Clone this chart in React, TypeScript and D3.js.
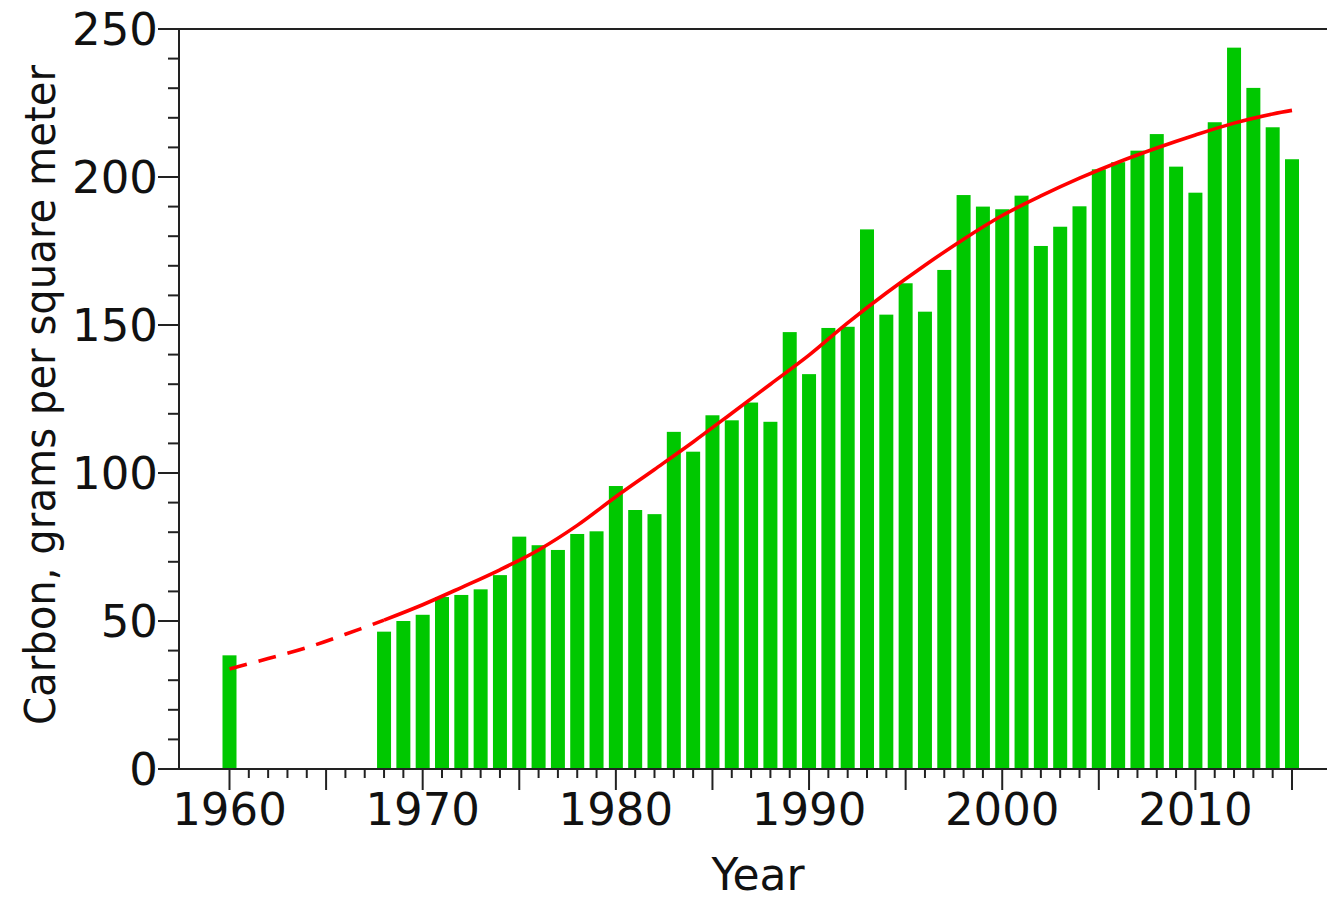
import React from "react";
import * as d3 from "d3";

// Bar data (annual values, grams of carbon per square meter)
const years: number[] = [
  1960, 1968, 1969, 1970, 1971, 1972, 1973, 1974, 1975, 1976, 1977, 1978, 1979,
  1980, 1981, 1982, 1983, 1984, 1985, 1986, 1987, 1988, 1989, 1990, 1991, 1992,
  1993, 1994, 1995, 1996, 1997, 1998, 1999, 2000, 2001, 2002, 2003, 2004, 2005,
  2006, 2007, 2008, 2009, 2010, 2011, 2012, 2013, 2014, 2015,
];
const values: number[] = [
  38.4, 46.4, 50.0, 52.1, 58.1, 58.8, 60.7, 65.5, 78.5, 75.6, 74.0, 79.4, 80.3,
  95.6, 87.5, 86.1, 113.9, 107.2, 119.5, 117.8, 123.8, 117.3, 147.6, 133.4, 149.0, 149.4,
  182.3, 153.5, 164.1, 154.5, 168.6, 193.9, 190.0, 189.1, 193.7, 176.7, 183.2, 190.1, 202.6,
  205.0, 208.9, 214.5, 203.5, 194.7, 218.5, 243.7, 230.1, 216.8, 206.0,
];

// Trend curve (red)
const trendYears: number[] = [
  1960, 1962, 1964, 1966, 1968, 1970, 1972, 1974, 1976, 1978, 1980, 1982, 1984,
  1986, 1988, 1990, 1992, 1994, 1996, 1998, 2000, 2002, 2004, 2006, 2008, 2010,
  2012, 2014, 2015,
];
const trendValues: number[] = [
  33.8, 37.3, 41.0, 45.5, 50.3, 55.5, 61.3, 67.3, 74.0, 82.3, 92.0, 101.2, 110.5,
  120.2, 130.0, 139.8, 150.7, 160.8, 170.2, 179.0, 187.0, 193.6, 199.6, 205.0, 209.8, 214.2,
  218.2, 221.3, 222.5,
];
const dashedUntil = 1968;

const yMajorTicks: number[] = [0, 50, 100, 150, 200, 250];
const xMajorTicks: number[] = [1960, 1970, 1980, 1990, 2000, 2010];

const W = 1327;
const H = 902;
const FONT = "'DejaVu Sans', sans-serif";

export default function App() {
  const x = d3.scaleLinear().domain([1960, 2015]).range([229.5, 1292]);
  const y = d3.scaleLinear().domain([0, 250]).range([769, 29]);
  const axisX = 179;
  const barW = 14;

  const line = d3
    .line<[number, number]>()
    .x((d) => x(d[0]))
    .y((d) => y(d[1]))
    .curve(d3.curveCatmullRom.alpha(0.5));

  const pts: [number, number][] = trendYears.map((t, i) => [t, trendValues[i]]);
  const dashedPts = pts.filter((p) => p[0] <= dashedUntil);
  const solidPts = pts.filter((p) => p[0] >= dashedUntil);

  const yMinor = d3.range(0, 251, 10);
  const xMinor = d3.range(1960, 2016, 1);

  return (
    <svg
      width={W}
      height={H}
      style={{ position: "absolute", left: 0, top: 0, background: "#fff" }}
    >
      <rect x={0} y={0} width={W} height={H} fill="#ffffff" />
      {/* bars */}
      {years.map((yr, i) => (
        <rect
          key={yr}
          x={x(yr) - barW / 2}
          y={y(values[i])}
          width={barW}
          height={y(0) - y(values[i])}
          fill="#00c800"
        />
      ))}
      {/* trend */}
      <path
        d={line(dashedPts) || ""}
        fill="none"
        stroke="#ff0000"
        strokeWidth={3.6}
        strokeDasharray="18 12"
      />
      <path d={line(solidPts) || ""} fill="none" stroke="#ff0000" strokeWidth={3.6} />

      {/* frame lines */}
      <line x1={axisX} x2={W} y1={y(250)} y2={y(250)} stroke="#222" strokeWidth={2} />
      <line x1={axisX} x2={W} y1={y(0)} y2={y(0)} stroke="#222" strokeWidth={2} />
      <line x1={axisX} x2={axisX} y1={y(250)} y2={y(0)} stroke="#222" strokeWidth={2} />

      {/* y ticks */}
      {yMinor.map((v) => {
        const major = v % 50 === 0;
        return (
          <line
            key={"yt" + v}
            x1={axisX - (major ? 21 : 11)}
            x2={axisX}
            y1={y(v)}
            y2={y(v)}
            stroke="#222"
            strokeWidth={2}
          />
        );
      })}
      {yMajorTicks.map((v) => (
        <text
          key={"yl" + v}
          x={axisX - 21}
          y={y(v)}
          dy="0.36em"
          textAnchor="end"
          fontFamily={FONT}
          fontSize={45}
          fill="#111"
        >
          {v}
        </text>
      ))}

      {/* x ticks */}
      {xMinor.map((t) => {
        const major = t % 5 === 0;
        return (
          <line
            key={"xt" + t}
            x1={x(t)}
            x2={x(t)}
            y1={y(0)}
            y2={y(0) + (major ? 21 : 9)}
            stroke="#222"
            strokeWidth={2}
          />
        );
      })}
      {xMajorTicks.map((t) => (
        <text
          key={"xl" + t}
          x={x(t)}
          y={825}
          textAnchor="middle"
          fontFamily={FONT}
          fontSize={45}
          fill="#111"
        >
          {t}
        </text>
      ))}

      {/* axis titles */}
      <text
        x={758}
        y={890}
        textAnchor="middle"
        fontFamily={FONT}
        fontSize={44}
        fill="#111"
      >
        Year
      </text>
      <text
        transform={`translate(55, 395) rotate(-90)`}
        textAnchor="middle"
        fontFamily={FONT}
        fontSize={42}
        fill="#111"
        textLength={660}
        lengthAdjust="spacingAndGlyphs"
      >
        Carbon, grams per square meter
      </text>
    </svg>
  );
}
